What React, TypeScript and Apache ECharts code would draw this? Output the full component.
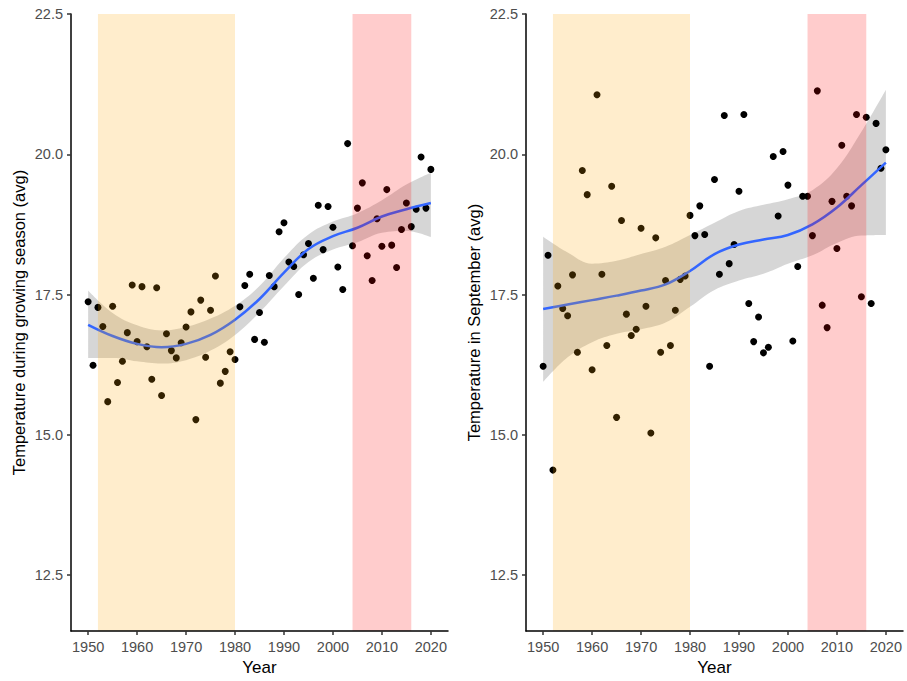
import { useEffect, useRef } from "react";
import * as echarts from "echarts";

const years = [
  1950, 1951, 1952, 1953, 1954, 1955, 1956, 1957, 1958, 1959,
  1960, 1961, 1962, 1963, 1964, 1965, 1966, 1967, 1968, 1969,
  1970, 1971, 1972, 1973, 1974, 1975, 1976, 1977, 1978, 1979,
  1980, 1981, 1982, 1983, 1984, 1985, 1986, 1987, 1988, 1989,
  1990, 1991, 1992, 1993, 1994, 1995, 1996, 1997, 1998, 1999,
  2000, 2001, 2002, 2003, 2004, 2005, 2006, 2007, 2008, 2009,
  2010, 2011, 2012, 2013, 2014, 2015, 2016, 2017, 2018, 2019,
  2020,
];

const growingSeason = [
  17.37, 16.24, 17.27, 16.93, 15.59, 17.29, 15.93, 16.31, 16.82, 17.67,
  16.66, 17.64, 16.57, 15.99, 17.62, 15.7, 16.8, 16.5, 16.37, 16.64,
  16.92, 17.19, 15.27, 17.4, 16.38, 17.22, 17.83, 15.92, 16.13, 16.48,
  16.34, 17.28, 17.66, 17.86, 16.7, 17.18, 16.65, 17.84, 17.64, 18.62,
  18.78, 18.08, 18.0, 17.5, 18.21, 18.41, 17.79, 19.09, 18.3, 19.07,
  18.7, 17.99, 17.59, 20.19, 18.37, 19.04, 19.49, 18.19, 17.75, 18.85,
  18.36, 19.37, 18.38, 17.98, 18.66, 19.13, 18.71, 19.02, 19.95, 19.04,
  19.73,
];

const september = [
  16.22, 18.2, 14.37, 17.65, 17.25, 17.12, 17.85, 16.47, 19.71, 19.28,
  16.16, 21.06, 17.86, 16.59, 19.43, 15.31, 18.82, 17.15, 16.77, 16.88,
  18.68, 17.29, 15.03, 18.51, 16.47, 17.75, 16.59, 17.22, 17.77, 17.83,
  18.91, 18.55, 19.08, 18.57, 16.22, 19.55, 17.86, 20.69, 18.05, 18.39,
  19.34, 20.71, 17.34, 16.66, 17.1, 16.46, 16.56, 19.96, 18.9, 20.05,
  19.45, 16.67, 18.0, 19.25, 19.25, 18.55, 21.13, 17.31, 16.91, 19.16,
  18.32, 20.16, 19.25, 19.08, 20.71, 17.46, 20.66, 17.34, 20.55, 19.75,
  20.08,
];

const smoothYears = [1950, 1955, 1960, 1965, 1970, 1975, 1980, 1985, 1990, 1995, 2000, 2005, 2010, 2015, 2020];

const growFit = [16.96, 16.76, 16.62, 16.56, 16.62, 16.78, 17.05, 17.42, 17.89, 18.31, 18.54, 18.69, 18.89, 19.02, 19.13];
const growUpper = [17.57, 17.17, 16.95, 16.86, 16.92, 17.07, 17.3, 17.65, 18.15, 18.57, 18.8, 18.95, 19.18, 19.46, 19.67];
const growLower = [16.37, 16.37, 16.31, 16.27, 16.33, 16.5, 16.78, 17.18, 17.65, 18.08, 18.3, 18.43, 18.6, 18.63, 18.52];

const sepFit = [17.24, 17.32, 17.4, 17.48, 17.57, 17.68, 17.92, 18.22, 18.39, 18.48, 18.56, 18.75, 19.05, 19.45, 19.85];
const sepUpper = [18.53, 18.25, 18.05, 18.1, 18.22, 18.35, 18.56, 18.78, 18.99, 19.1, 19.2, 19.36, 19.75, 20.4, 21.15];
const sepLower = [15.94, 16.38, 16.65, 16.8, 16.88, 17.0, 17.28, 17.58, 17.75, 17.87, 18.05, 18.2, 18.42, 18.55, 18.56];

const periods = [
  [1952, 1980],
  [2004, 2016],
];
const periodColors = ["rgba(255,165,0,0.2)", "rgba(255,0,0,0.2)"];

const xTicks = [1950, 1960, 1970, 1980, 1990, 2000, 2010, 2020];
const yTicks = [12.5, 15, 17.5, 20, 22.5];

const yTitles = ["Temperature during growing season (avg)", "Temperature in September (avg)"];

const FONT = "'Liberation Sans', Arial, Helvetica, sans-serif";

function panelSeries(i: number, values: number[], fit: number[], lower: number[], upper: number[]) {
  return [
    {
      type: "line",
      xAxisIndex: i,
      yAxisIndex: i,
      stack: "band" + i,
      dimensions: ["temp", "year"],
      encode: { x: 1, y: 0 },
      data: smoothYears.map((y, k) => [lower[k], y]),
      symbol: "none",
      smooth: 0.4,
      lineStyle: { width: 0, opacity: 0 },
      z: 1,
      silent: true,
    },
    {
      type: "line",
      xAxisIndex: i,
      yAxisIndex: i,
      stack: "band" + i,
      dimensions: ["temp", "year"],
      encode: { x: 1, y: 0 },
      data: smoothYears.map((y, k) => [+(upper[k] - lower[k]).toFixed(3), y]),
      symbol: "none",
      smooth: 0.4,
      lineStyle: { width: 0, opacity: 0 },
      areaStyle: { color: "rgba(153,153,153,0.4)", opacity: 1 },
      z: 1,
      silent: true,
    },
    {
      type: "scatter",
      xAxisIndex: i,
      yAxisIndex: i,
      data: years.map((y, k) => [y, values[k]]),
      symbolSize: 7,
      itemStyle: { color: "#000000", opacity: 1 },
      z: 2,
      silent: true,
    },
    {
      type: "line",
      xAxisIndex: i,
      yAxisIndex: i,
      data: smoothYears.map((y, k) => [y, fit[k]]),
      symbol: "none",
      smooth: 0.4,
      lineStyle: { color: "#3366FF", width: 2.5 },
      z: 3,
      silent: true,
    },
    {
      type: "custom",
      xAxisIndex: i,
      yAxisIndex: i,
      data: periods,
      encode: { x: [0, 1] },
      z: 10,
      silent: true,
      renderItem: (params: any, api: any) => {
        const x1 = api.coord([api.value(0), 17])[0];
        const x2 = api.coord([api.value(1), 17])[0];
        const cs = params.coordSys;
        return {
          type: "rect",
          shape: { x: x1, y: cs.y, width: x2 - x1, height: cs.height },
          style: { fill: periodColors[params.dataIndex] },
        };
      },
    },
  ];
}

export default function App() {
  const ref = useRef<HTMLDivElement>(null);

  useEffect(() => {
    if (!ref.current) return;
    const chart = echarts.init(ref.current, null, { renderer: "svg" });
    const axisLineStyle = { color: "#000000", width: 1.5 };
    const xAxes = [0, 1].map((i) => ({
      gridIndex: i,
      type: "value",
      min: 1946.5,
      max: 2023.5,
      z: 20,
      splitLine: { show: false },
      axisLine: { onZero: false, lineStyle: axisLineStyle },
      axisTick: { customValues: xTicks, length: 4, lineStyle: { color: "#333333", width: 1.5 } },
      axisLabel: {
        customValues: xTicks,
        color: "#4d4d4d",
        fontSize: 14.5,
        margin: 8,
        fontFamily: FONT,
        formatter: (v: number) => String(v),
      },
      name: "Year",
      nameLocation: "middle",
      nameGap: 25,
      nameTextStyle: { color: "#000000", fontSize: 17, fontFamily: FONT },
    }));
    const yAxes = [0, 1].map((i) => ({
      gridIndex: i,
      type: "value",
      min: 11.5,
      max: 22.5,
      z: 20,
      splitLine: { show: false },
      axisLine: { onZero: false, lineStyle: axisLineStyle },
      axisTick: { customValues: yTicks, length: 4, lineStyle: { color: "#333333", width: 1.5 } },
      axisLabel: {
        customValues: yTicks,
        color: "#4d4d4d",
        fontSize: 14.5,
        margin: 8,
        fontFamily: FONT,
        formatter: (v: number) => v.toFixed(1),
      },
      name: yTitles[i],
      nameLocation: "middle",
      nameGap: 44,
      nameTextStyle: { color: "#000000", fontSize: 16.5, fontFamily: FONT },
    }));
    chart.setOption({
      animation: false,
      backgroundColor: "#ffffff",
      grid: [
        { left: 71, top: 14, width: 377, height: 620 },
        { left: 526, top: 14, width: 377, height: 620 },
      ],
      xAxis: xAxes,
      yAxis: yAxes,
      series: [
        ...panelSeries(0, growingSeason, growFit, growLower, growUpper),
        ...panelSeries(1, september, sepFit, sepLower, sepUpper),
      ],
    });
    return () => chart.dispose();
  }, []);

  return (
    <div
      ref={ref}
      style={{ position: "fixed", left: 0, top: 0, width: 907, height: 681, background: "#ffffff" }}
    />
  );
}
